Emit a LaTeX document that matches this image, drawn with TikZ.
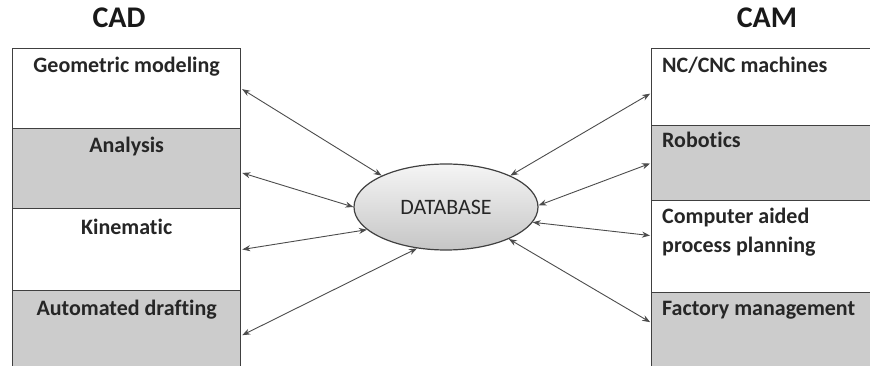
\documentclass[tikz,border=0pt]{standalone}
\usepackage{fontspec}
\setmainfont{Carlito}[Ligatures={NoCommon}]
\usepackage{tikz}
\usetikzlibrary{calc,shapes.geometric,arrows.meta}

\tikzset{
  cell/.style={draw=black!75,line width=1.3pt,anchor=north west,inner sep=0pt},
  cellw/.style={cell,fill=white},
  cellg/.style={cell,fill=gray!40},
  item/.style={font=\bfseries\fontsize{22}{29}\selectfont,inner sep=0pt,text=black!85},
  head/.style={font=\bfseries\fontsize{30}{32}\selectfont,inner sep=0pt,anchor=base,text=black!90},
  link/.style={draw=black!70,line width=0.9pt,{Stealth[length=8pt,width=6pt]}-{Stealth[length=8pt,width=6pt]},shorten <=1pt}
}

\begin{document}
\begin{tikzpicture}[x=1pt,y=-1pt]
        \useasboundingbox (0,0) rectangle (870,366);
        % CAD column
        \node[cellw,minimum width=228pt,minimum height=80pt] (geo) at (12,48) {};
        \node[cellg,minimum width=228pt,minimum height=80pt] (ana) at (12,128) {};
        \node[cellw,minimum width=228pt,minimum height=82pt] (kin) at (12,208) {};
        \node[cellg,minimum width=228pt,minimum height=82pt] (drf) at (12,290) {};
        % CAM column
        \node[cellw,minimum width=230pt,minimum height=77pt] (nc) at (651,48) {};
        \node[cellg,minimum width=230pt,minimum height=75pt] (rob) at (651,125) {};
        \node[cellw,minimum width=230pt,minimum height=92pt] (capp) at (651,200) {};
        \node[cellg,minimum width=230pt,minimum height=80pt] (fac) at (651,292) {};
        % headings
        \node[head] (cad) at (119,28) {CAD};
        \node[head] (cam) at (767,28) {CAM};
        % labels
        \node[item,anchor=base] (geot) at ($(geo.north)+(0,25)$) {Geometric modeling};
        \node[item,anchor=base] (anat) at ($(ana.north)+(0,25)$) {Analysis};
        \node[item,anchor=base] (kint) at ($(kin.north)+(0,26)$) {Kinematic};
        \node[item,anchor=base] (drft) at ($(drf.north)+(0,25)$) {Automated drafting};
        \node[item,anchor=base west] (nct) at ($(nc.north west)+(11,25)$) {NC/CNC machines};
        \node[item,anchor=base west] (robt) at ($(rob.north west)+(11,23)$) {Robotics};
        \node[item,anchor=base west] (cappt) at ($(capp.north west)+(11,23)$) {Computer aided};
        \node[item,anchor=base west] (cappu) at ($(capp.north west)+(11,52)$) {process planning};
        \node[item,anchor=base west] (fact) at ($(fac.north west)+(11,23)$) {Factory management};
        % database
        \node[ellipse,draw=black!75,line width=1.2pt,top color=gray!8,bottom color=gray!45,
              minimum width=184pt,minimum height=86pt,inner sep=0pt,
              font=\fontsize{22}{24}\selectfont,text=black!85] (db) at (446,207) {DATABASE};
        % links
        \draw[link] (geo.east) -- (db.154);
        \draw[link] ($(ana.east)+(0,4)$) -- (db.180);
        \draw[link] (kin.east) -- (db.196);
        \draw[link] ($(drf.east)+(0,4)$) -- (db.235);
        \draw[link] ($(nc.west)+(0,6)$) -- (db.26);
        \draw[link] (rob.west) -- (db.1);
        \draw[link] ($(capp.west)+(0,-11)$) -- (db.350);
        \draw[link] ($(fac.west)+(0,-10)$) -- (db.333);
\end{tikzpicture}
\end{document}
